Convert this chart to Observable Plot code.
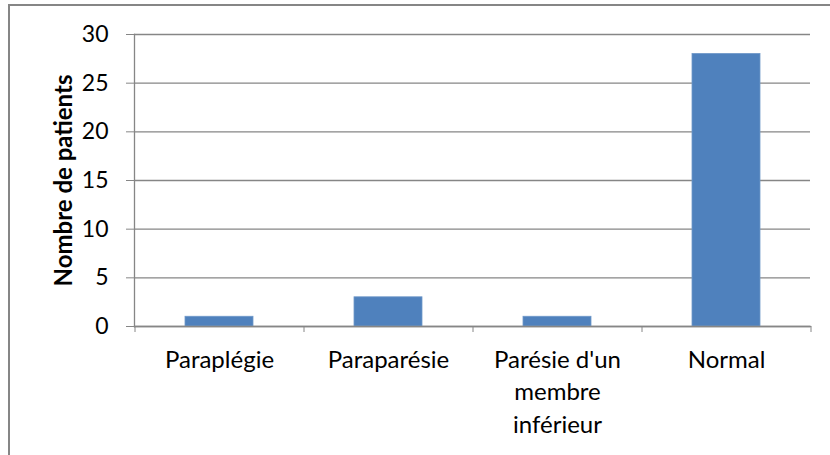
<!DOCTYPE html>
<html>
<head>
<meta charset="utf-8">
<script src="https://cdn.jsdelivr.net/npm/d3@7"></script>
<script src="https://cdn.jsdelivr.net/npm/@observablehq/plot@0.6"></script>
<style>
  html, body { margin: 0; padding: 0; background: #fff; }
  #wrap { position: relative; width: 830px; height: 455px; overflow: hidden; }
  #border { position: absolute; left: 8px; top: 4px; width: 840px; height: 470px; border: 2px solid #868686; box-sizing: border-box; pointer-events: none; }
</style>
</head>
<body>
<div id="wrap"><div id="border"></div></div>
<script>
const categories = ["Paraplégie", "Paraparésie", "Parésie d'un membre inférieur", "Normal"];
const patients = [1, 3, 1, 28];
const tickLabels = ["Paraplégie", "Paraparésie", "Parésie d'un\nmembre\ninférieur", "Normal"];
const yTicks = [0, 5, 10, 15, 20, 25, 30];
const yLabel = "Nombre de patients";

const W = 830, H = 455, mL = 134, mR = 20, mT = 34, mB = 129;
const step = (W - mL - mR) / categories.length;
const grey = "#868686";

const chart = Plot.plot({
  width: W, height: H,
  marginLeft: mL, marginRight: mR, marginTop: mT, marginBottom: mB,
  style: { fontFamily: "Lato, sans-serif", fontSize: "23px", color: "#000", background: "transparent" },
  x: { domain: categories, paddingInner: 0.6, paddingOuter: 0.3, axis: null },
  y: { domain: [0, 30], axis: null },
  marks: [
    Plot.gridY(yTicks, { stroke: grey, strokeOpacity: 1, strokeWidth: 1.3 }),
    Plot.barY(patients, { x: categories, y: patients, fill: "#4F81BD", stroke: "#6f98c9", strokeWidth: 0.8 }),
    Plot.frame({ anchor: "left", stroke: grey, strokeWidth: 1.3 }),
    Plot.frame({ anchor: "bottom", stroke: grey, strokeWidth: 1.3 }),
    Plot.axisY({ ticks: yTicks, tickSize: 8, tickPadding: 18, stroke: grey, fill: "#000", label: null, fontSize: 23 }),
    Plot.axisX({ ticks: categories, tickSize: 0, tickPadding: 19, tickFormat: d => tickLabels[categories.indexOf(d)], label: null, lineHeight: 1.34, fill: "#000", fontSize: 24 }),
    Plot.axisX({ ticks: categories, tickSize: 6, text: null, dx: -step / 2, stroke: grey, label: null }),
    Plot.axisX({ ticks: [categories[categories.length - 1]], tickSize: 6, text: null, dx: step / 2, stroke: grey, label: null }),
    Plot.text([yLabel], { text: d => d, frameAnchor: "left", textAnchor: "middle", lineAnchor: "middle", rotate: -90, dx: -70, fontWeight: "bold", fontSize: 24, fill: "#000" })
  ]
});
document.getElementById("wrap").prepend(chart);
</script>
</body>
</html>
